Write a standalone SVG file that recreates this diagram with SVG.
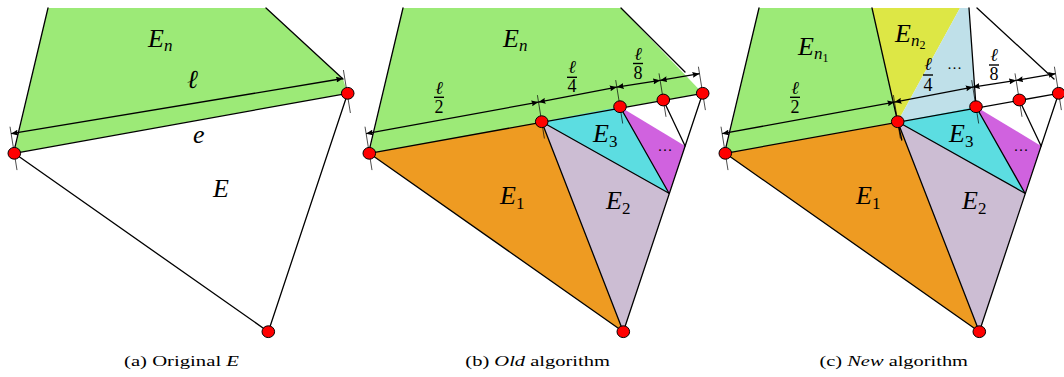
<svg xmlns="http://www.w3.org/2000/svg" width="1064" height="377" viewBox="0 0 1064 377">
<style>
.edge{stroke:#000;stroke-width:1.3;fill:none;stroke-linecap:round}
.thin{stroke:#000;stroke-width:0.7;fill:none}
.dim{stroke:#000;stroke-width:1.3;fill:none;marker-start:url(#ah);marker-end:url(#ah)}
.node{fill:#ff0000;stroke:#000;stroke-width:1}
.bar{stroke:#000;stroke-width:1.4}
.m{font-family:"Liberation Serif",serif;font-style:italic;font-size:26px;fill:#000}
.sub{font-size:17px}
.sub2{font-size:12px;font-style:normal}
.up{font-style:normal}
.fr{font-family:"Liberation Serif",serif;font-size:18px;fill:#000;text-anchor:middle}
.dots{font-family:"Liberation Serif",serif;font-size:15px;fill:#000;text-anchor:middle}
.cap{font-family:"Liberation Serif",serif;font-size:15px;fill:#000}
.green{fill:#9cea77}.orange{fill:#ee9b22}.lilac{fill:#ccbdd3}.cyan{fill:#5cdde1}.purple{fill:#d062df}.yellow{fill:#dde745}.lblue{fill:#bfe0e9}
</style>
<defs>
<marker id="ah" viewBox="0 0 7 6" markerWidth="7" markerHeight="6" refX="7" refY="3" orient="auto-start-reverse" markerUnits="userSpaceOnUse">
<path d="M0,0 L7,3 L0,6 Q1.5,3 0,0 z" fill="#000"/>
</marker>
<g id="lowerFill">
<polygon class="orange" points="14.3,153.3 186.7,121.7 268.3,331.7"/>
<polygon class="lilac" points="186.7,121.7 314,193.3 268.3,331.7"/>
<polygon class="cyan" points="186.7,121.7 265,106.7 314,193.3"/>
<polygon class="purple" points="265,106.7 330.1,146 314,193.3"/>
</g>
<g id="lowerEdges">
<line class="edge" x1="14.3" y1="153.3" x2="347.7" y2="93.3"/>
<line class="edge" x1="14.3" y1="153.3" x2="268.3" y2="331.7"/>
<line class="edge" x1="347.7" y1="93.3" x2="268.3" y2="331.7"/>
<line class="edge" x1="186.7" y1="121.7" x2="268.3" y2="331.7"/>
<line class="edge" x1="186.7" y1="121.7" x2="314" y2="193.3"/>
<line class="edge" x1="265" y1="106.7" x2="314" y2="193.3"/>
<line class="edge" x1="308.3" y1="100" x2="330.1" y2="146"/>
</g>
<g id="dims">
<line class="dim" x1="11.1" y1="133.7" x2="183.5" y2="102.1"/>
<line class="dim" x1="183.5" y1="102.1" x2="261.8" y2="87.1"/>
<line class="dim" x1="261.8" y1="87.1" x2="305.1" y2="80.4"/>
<line class="dim" x1="305.1" y1="80.4" x2="344.5" y2="73.7"/>
<line class="thin" x1="10" y1="126.7" x2="17" y2="170.1"/>
<line class="thin" x1="182.4" y1="95.1" x2="189.4" y2="138.5"/>
<line class="thin" x1="260.7" y1="80.1" x2="267.7" y2="123.5"/>
<line class="thin" x1="304" y1="73.4" x2="311" y2="116.8"/>
<line class="thin" x1="343.4" y1="66.7" x2="350.4" y2="110.1"/>
</g>
<g id="nodes5">
<ellipse class="node" cx="14.3" cy="153.3" rx="6.3" ry="5.9"/>
<ellipse class="node" cx="186.7" cy="121.7" rx="6.3" ry="5.9"/>
<ellipse class="node" cx="265" cy="106.7" rx="6.3" ry="5.9"/>
<ellipse class="node" cx="308.3" cy="100" rx="6.3" ry="5.9"/>
<ellipse class="node" cx="347.7" cy="93.3" rx="6.3" ry="5.9"/>
<ellipse class="node" cx="268.3" cy="331.7" rx="6.3" ry="5.9"/>
</g>
<g id="lowerLabels">
<text class="m" x="145" y="204">E<tspan class="sub up" dy="5">1</tspan></text>
<text class="m" x="251" y="209">E<tspan class="sub up" dy="5">2</tspan></text>
<text class="m" x="238" y="142">E<tspan class="sub up" dy="5">3</tspan></text>
<text class="dots" x="310" y="155">···</text>
</g>
</defs>

<!-- Panel (a) -->
<g id="panel-a">
<polygon class="green" points="48,8 266,8 343,79 347.7,93.3 14.3,153.3"/>
<g id="a-connectors">
<line class="edge" x1="48" y1="8" x2="14.3" y2="150"/>
<line class="edge" x1="266" y1="8" x2="343" y2="79"/>
<line class="edge" x1="14.3" y1="153.3" x2="347.7" y2="93.3"/>
<line class="edge" x1="14.3" y1="153.3" x2="268.3" y2="331.7"/>
<line class="edge" x1="347.7" y1="93.3" x2="268.3" y2="331.7"/>
<line class="dim" x1="11.1" y1="133.7" x2="343" y2="78.5"/>
<line class="thin" x1="10" y1="126.7" x2="17" y2="170.1"/>
<line class="thin" x1="343.4" y1="70" x2="350.4" y2="113"/>
</g>
<g id="a-nodes">
<ellipse class="node" cx="14.3" cy="153.3" rx="6.3" ry="5.9"/>
<ellipse class="node" cx="347.7" cy="93.3" rx="6.3" ry="5.9"/>
<ellipse class="node" cx="268.3" cy="331.7" rx="6.3" ry="5.9"/>
</g>
<text class="m" x="148" y="47">E<tspan class="sub" dy="4">n</tspan></text>
<text class="m" x="187" y="88" font-size="24">ℓ</text>
<text class="m" x="193" y="143" font-size="24">e</text>
<text class="m" x="213" y="197">E</text>
<text class="cap" x="124" y="366" textLength="115" lengthAdjust="spacingAndGlyphs">(a) Original <tspan font-style="italic">E</tspan></text>
</g>

<!-- Panel (b) -->
<g id="panel-b" transform="translate(355,0)">
<polygon class="green" points="48,8 266,8 347.7,93.3 14.3,153.3"/>
<use href="#lowerFill"/>
<g id="b-connectors">
<line class="edge" x1="48" y1="8" x2="14.3" y2="150"/>
<line class="edge" x1="266" y1="8" x2="330" y2="72"/>
<use href="#lowerEdges"/>
<use href="#dims"/>
</g>
<g id="b-nodes"><use href="#nodes5"/></g>
<text class="m" x="148" y="47">E<tspan class="sub" dy="4">n</tspan></text>
<use href="#lowerLabels"/>
<text class="fr" x="84" y="94" font-style="italic">ℓ</text><line class="bar" x1="79" y1="97.3" x2="89" y2="97.3"/><text class="fr" x="84" y="113">2</text>
<text class="fr" x="217" y="73" font-style="italic">ℓ</text><line class="bar" x1="212" y1="77.3" x2="222" y2="77.3"/><text class="fr" x="217" y="92">4</text>
<text class="fr" x="283" y="59.5" font-style="italic">ℓ</text><line class="bar" x1="278" y1="63.5" x2="288" y2="63.5"/><text class="fr" x="283" y="79">8</text>
<text class="cap" x="110.3" y="366" textLength="144.7" lengthAdjust="spacingAndGlyphs">(b) <tspan font-style="italic">Old</tspan> algorithm</text>
</g>

<!-- Panel (c) -->
<g id="panel-c" transform="translate(711,0)">
<polygon class="green" points="48,8 161,8 186.7,121.7 14.3,153.3"/>
<polygon class="yellow" points="161,8 249,8 186.7,121.7"/>
<polygon class="lblue" points="249,8 258,8 265,106.7 186.7,121.7"/>
<use href="#lowerFill"/>
<g id="c-connectors">
<line class="edge" x1="48" y1="8" x2="14.3" y2="150"/>
<line class="edge" x1="161" y1="8" x2="190.8" y2="140"/>
<line class="edge" x1="258" y1="8" x2="265" y2="106.7"/>
<line class="edge" x1="266" y1="8" x2="343" y2="79"/>
<use href="#lowerEdges"/>
<use href="#dims"/>
</g>
<g id="c-nodes"><use href="#nodes5"/></g>
<text class="m" x="87" y="55">E<tspan class="sub" dy="4">n</tspan><tspan class="sub2" dy="3">1</tspan></text>
<text class="m" x="184" y="42">E<tspan class="sub" dy="4">n</tspan><tspan class="sub2" dy="3">2</tspan></text>
<use href="#lowerLabels"/>
<text class="fr" x="84" y="94" font-style="italic">ℓ</text><line class="bar" x1="79" y1="97.3" x2="89" y2="97.3"/><text class="fr" x="84" y="113">2</text>
<text class="fr" x="217" y="70" font-style="italic">ℓ</text><line class="bar" x1="212" y1="75" x2="222" y2="75"/><text class="fr" x="217" y="91">4</text>
<text class="dots" x="243.5" y="73">···</text>
<text class="fr" x="283" y="61" font-style="italic">ℓ</text><line class="bar" x1="278" y1="65" x2="288" y2="65"/><text class="fr" x="283" y="80">8</text>
<text class="cap" x="108.5" y="366" textLength="148.5" lengthAdjust="spacingAndGlyphs">(c) <tspan font-style="italic">New</tspan> algorithm</text>
</g>
</svg>
